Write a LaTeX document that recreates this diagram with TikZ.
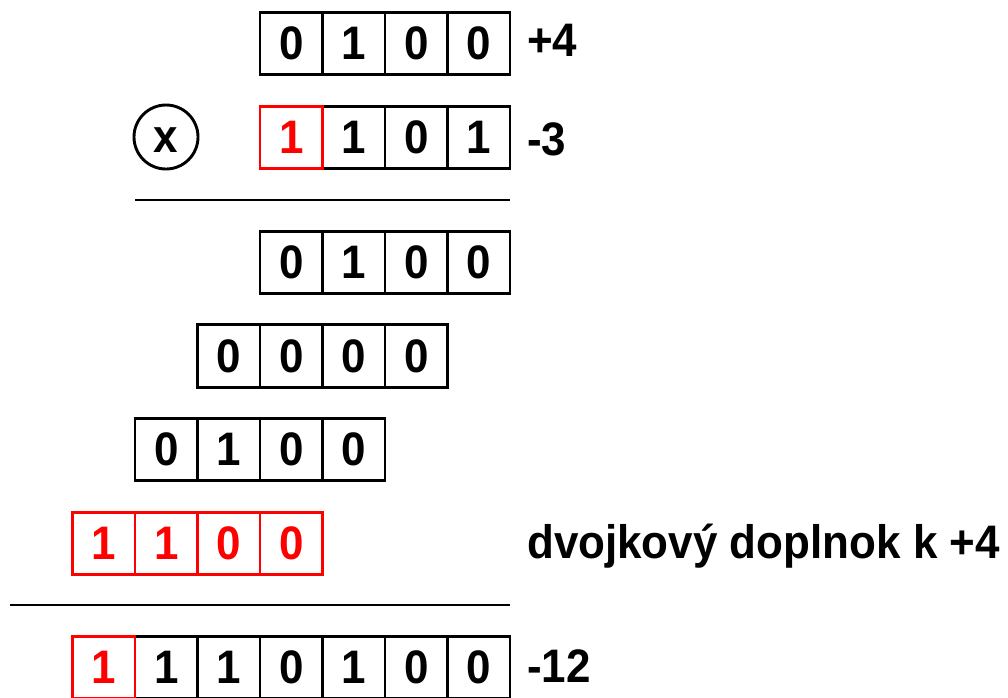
\documentclass[tikz,border=0pt]{standalone}
\usepackage{fontspec}
\setmainfont[FakeStretch=0.935]{Liberation Sans}
\begin{document}
\begin{tikzpicture}[x=1pt,y=-1pt,
  bitfont/.style={font=\bfseries\fontsize{47}{56}\selectfont},
  cell/.style={draw=black, line width=2.9pt, minimum width=62.5pt, minimum height=62.5pt, inner sep=0pt, bitfont},
  redcell/.style={cell, draw=red, text=red},
  lbl/.style={anchor=base west, inner sep=0pt, bitfont},
  rule/.style={line width=2.9pt}]
\useasboundingbox (0,0) rectangle (1008,697);
% row 1: +4
\foreach \b [count=\i] in {0,1,0,0}
  \node[cell] (ra\i) at ({260+62.5*(\i-0.5)},43.5) {\b};
\node[lbl] (la) at (527,56) {+4};
% row 2: -3
\foreach \b [count=\i from 2] in {1,0,1}
  \node[cell] (rb\i) at ({260+62.5*(\i-0.5)},137.5) {\b};
\node[redcell] (rb1) at ({260+62.5*0.5},137.5) {1};
\node[lbl] (lb) at (527,155) {-3};
\node[circle, draw, line width=2.9pt, minimum size=64pt, inner sep=0pt] (times) at (166,137) {};
\node[bitfont, inner sep=0pt] (xlbl) at (166,140) {x};
% rule 1
\coordinate (h1a) at (135,200);
\coordinate (h1b) at (510,200);
\draw[rule] (h1a) -- (h1b);
% partial products
\foreach \b [count=\i] in {0,1,0,0}
  \node[cell] (rc\i) at ({260+62.5*(\i-0.5)},262.5) {\b};
\foreach \b [count=\i] in {0,0,0,0}
  \node[cell] (rd\i) at ({197.5+62.5*(\i-0.5)},356) {\b};
\foreach \b [count=\i] in {0,1,0,0}
  \node[cell] (re\i) at ({135+62.5*(\i-0.5)},449.5) {\b};
\foreach \b [count=\i] in {1,1,0,0}
  \node[redcell] (rf\i) at ({72.5+62.5*(\i-0.5)},543.5) {\b};
\node[lbl] (lf) at (527,558) {dvojkový doplnok k +4};
% rule 2
\coordinate (h2a) at (10,605);
\coordinate (h2b) at (510,605);
\draw[rule] (h2a) -- (h2b);
% result
\foreach \b [count=\i from 2] in {1,1,0,1,0,0}
  \node[cell] (rg\i) at ({72.5+62.5*(\i-0.5)},667.5) {\b};
\node[redcell] (rg1) at ({72.5+62.5*0.5},667.5) {1};
\node[lbl] (lg) at (527,682) {-12};
\end{tikzpicture}
\end{document}
